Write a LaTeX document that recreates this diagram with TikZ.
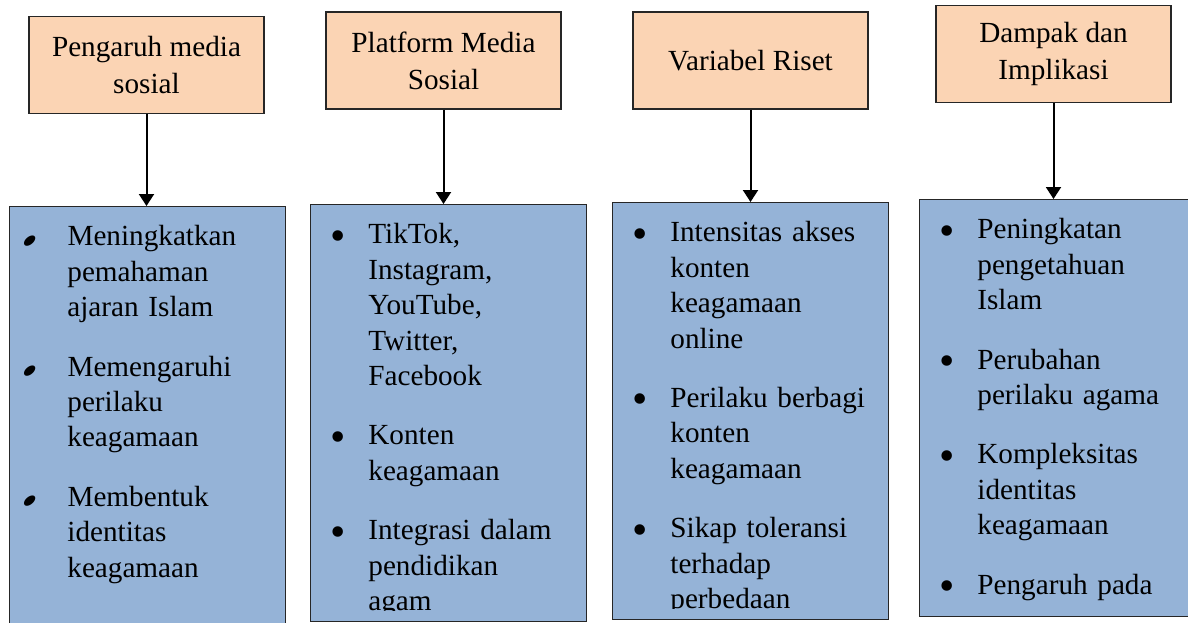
\documentclass[tikz,border=0pt]{standalone}
\usepackage{fontspec}
\setmainfont{Liberation Serif}
\usepackage{graphicx}
\usepackage{xcolor}
\usetikzlibrary{arrows.meta}

\definecolor{oranyemuda}{HTML}{FBD4B4}
\definecolor{birumuda}{HTML}{95B3D7}

\newcommand{\bulat}{\raisebox{-3.2pt}{\scalebox{1.5}{\textbullet}}}
\newcommand{\bulatmiring}{\raisebox{-2.6pt}{\rotatebox[origin=c]{40}{\scalebox{1.9}[1.1]{\textbullet}}}}
\newenvironment{poin}[1][\bulat]{%
  \begin{list}{#1}{%
    \setlength{\leftmargin}{29pt}%
    \setlength{\labelwidth}{12pt}%
    \setlength{\labelsep}{11.5pt}%
    \setlength{\itemsep}{12pt}%
    \setlength{\parsep}{0pt}%
    \setlength{\topsep}{0pt}%
    \setlength{\partopsep}{0pt}}}%
  {\end{list}}

\begin{document}
\begin{tikzpicture}[
		x=0.5pt, y=-0.5pt,
		judul/.style={draw=black!85, line width=0.6pt, fill=oranyemuda,
			minimum width=117.5pt, minimum height=48.5pt, align=center,
			font=\fontsize{14.6}{18.5}\selectfont},
		isi/.style={draw=black!85, line width=0.6pt, fill=birumuda,
			anchor=north west, minimum width=138pt, minimum height=208.5pt},
		daftar/.style={anchor=north west, inner sep=0pt, text width=135pt,
			align=left, font=\fontsize{14.6}{17.7}\selectfont},
		panah/.style={line width=1pt, -{Triangle[width=7.5pt,length=6pt]}}
	]
	\useasboundingbox (0,0) rectangle (1188,622);
	\clip (0,0) rectangle (1188,622);

	\node[judul] (pengaruh) at (146.5,65) {Pengaruh media\\sosial};
	\node[judul] (platform) at (443.5,60.5) {Platform Media\\Sosial};
	\node[judul] (variabel) at (750.5,60.5) {Variabel Riset};
	\node[judul] (dampak) at (1053.5,54) {Dampak dan\\Implikasi};

	\node[isi] (isiPengaruh) at (9,206) {};
	\node[isi] (isiPlatform) at (310,204) {};
	\node[isi] (isiVariabel) at (612,202) {};
	\node[isi] (isiDampak) at (919,199) {};

	\begin{scope}
		\clip (isiPengaruh.north west) rectangle ([yshift=6pt]isiPengaruh.south east);
		\node[daftar] (poinPengaruh) at ([yshift=-2pt]isiPengaruh.north west) {
			\begin{poin}[\bulatmiring]
				\item Meningkatkan\\pemahaman\\ajaran Islam
				\item Memengaruhi\\perilaku\\keagamaan
				\item Membentuk\\identitas\\keagamaan
			\end{poin}};
	\end{scope}
	\begin{scope}
		\clip (isiPlatform.north west) rectangle ([yshift=6pt]isiPlatform.south east);
		\node[daftar] (poinPlatform) at ([yshift=-2pt]isiPlatform.north west) {
			\begin{poin}
				\item TikTok,\\Instagram,\\YouTube,\\Twitter,\\Facebook
				\item Konten\\keagamaan
				\item Integrasi dalam\\pendidikan\\agam
			\end{poin}};
	\end{scope}
	\begin{scope}
		\clip (isiVariabel.north west) rectangle ([yshift=6pt]isiVariabel.south east);
		\node[daftar] (poinVariabel) at ([yshift=-2pt]isiVariabel.north west) {
			\begin{poin}
				\item Intensitas akses\\konten\\keagamaan\\online
				\item Perilaku berbagi\\konten\\keagamaan
				\item Sikap toleransi\\terhadap\\perbedaan
			\end{poin}};
	\end{scope}
	\begin{scope}
		\clip (isiDampak.north west) rectangle ([yshift=6pt]isiDampak.south east);
		\node[daftar] (poinDampak) at ([yshift=-2pt]isiDampak.north west) {
			\begin{poin}
				\item Peningkatan\\pengetahuan\\Islam
				\item Perubahan\\perilaku agama
				\item Kompleksitas\\identitas\\keagamaan
				\item Pengaruh pada
			\end{poin}};
	\end{scope}

	\draw[panah] (pengaruh.south) -- (pengaruh.south |- isiPengaruh.north);
	\draw[panah] (platform.south) -- (platform.south |- isiPlatform.north);
	\draw[panah] (variabel.south) -- (variabel.south |- isiVariabel.north);
	\draw[panah] (dampak.south) -- (dampak.south |- isiDampak.north);
\end{tikzpicture}
\end{document}
